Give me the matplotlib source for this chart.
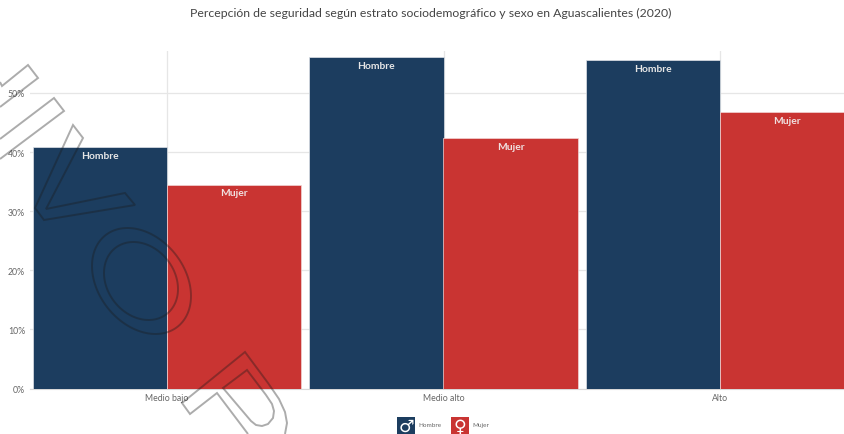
"""Percepción de seguridad por estrato y sexo."""

import matplotlib

matplotlib.use('Agg')

import matplotlib.pyplot as plt
import numpy as np
from matplotlib.patches import Polygon, Rectangle

W, H = 844, 435

categorias = ['Medio bajo', 'Medio alto', 'Alto']
hombre = [40.8, 56.1, 55.5]
mujer = [34.5, 42.4, 46.7]
yticks = [0, 10, 20, 30, 40, 50]

# contornos de la marca de agua, en pixeles de la imagen
marca_abiertas = [
    [(0, 83), (2, 87), (28, 66), (38, 79), (0, 108)],
    [(0, 140), (54, 99), (64, 112), (0, 160)],
    [(248, 435), (217, 394), (190, 415), (182, 404), (245, 353), (268, 384), (279, 400), (285, 413), (287, 424), (285, 435)],
]
marca_cerradas = [
    [(73, 126), (83, 139), (46, 210), (125, 194), (135, 206), (44, 221), (35, 209)],
    [(223, 389), (247, 371), (266, 396), (272, 405), (274, 412), (273, 419), (268, 425), (262, 427), (256, 426), (251, 422)],
]
# (cx, cy, medio ancho, medio alto, inclinacion)
marca_elipses = [
    (141.5, 282, 49.5, 53, 742),
    (141, 282, 37, 39, 296),
]

AZUL = '#1c3d5f'
ROJO = '#c93432'

plt.rcParams['font.family'] = ['Lato', 'DejaVu Sans']

fig = plt.figure(figsize=(W / 100, H / 100), dpi=100)
ax = fig.add_axes([30 / W, (H - 389.5) / H, (W - 30) / W, 337.5 / H])

x = np.arange(len(categorias))
ancho = 0.486
ax.bar(x - ancho / 2, hombre, ancho, color=AZUL, edgecolor='#dfe3e8', linewidth=0.5, zorder=3)
ax.bar(x + ancho / 2, mujer, ancho, color=ROJO, edgecolor='#f2d5d5', linewidth=0.5, zorder=3)

for xi, h, m in zip(x, hombre, mujer):
    ax.text(xi - ancho / 2, h - 1.4, 'Hombre', color='#e6e6e6', fontsize=7.4, fontweight='bold',
            ha='center', va='center', zorder=4)
    ax.text(xi + ancho / 2, m - 1.4, 'Mujer', color='#f0e0e0', fontsize=7.4, fontweight='bold',
            ha='center', va='center', zorder=4)

ax.set_xlim((30 - 167) / 276.5, (W - 167) / 276.5)
ax.set_ylim(0, 57.1)
ax.set_xticks(x, categorias)
ax.set_yticks(yticks, [f'{v}%' for v in yticks])
ax.tick_params(length=0, labelsize=6.3, labelcolor='#666666')
ax.tick_params(axis='x', pad=3.5)
ax.tick_params(axis='y', pad=3.5)
ax.grid(True, color='#e6e6e6', linewidth=0.9, zorder=0)
for lado in ['top', 'right', 'left']:
    ax.spines[lado].set_visible(False)
ax.spines['bottom'].set_color('#d8d8d8')

fig.text(430.5 / W, (H - 13) / H, 'Percepción de seguridad según estrato sociodemográfico y sexo en Aguascalientes (2020)',
         ha='center', va='center', fontsize=8.8, color='#444444')

# leyenda con iconos
for x0, color, icono, nombre in [(397, AZUL, '♂', 'Hombre'), (451, ROJO, '♀', 'Mujer')]:
    fig.add_artist(Rectangle((x0 / W, (H - 435) / H), 18 / W, 17 / H, transform=fig.transFigure,
                             facecolor=color, edgecolor='none'))
    fig.text((x0 + 9) / W, (H - 426.5) / H, icono, ha='center', va='center', fontsize=12.5,
             fontweight='bold', color='white', family='DejaVu Sans')
    fig.text((x0 + 21) / W, (H - 426) / H, nombre, ha='left', va='center', fontsize=4.6, color='#666666')


def px(puntos):
    return [(a / W, (H - b) / H) for a, b in puntos]


# marca de agua
estilo = dict(transform=fig.transFigure, facecolor='none', edgecolor=(0.1, 0.1, 0.1, 0.36), linewidth=1.4, zorder=10)
for puntos in marca_abiertas:
    fig.add_artist(Polygon(px(puntos), closed=False, **estilo))
for puntos in marca_cerradas:
    fig.add_artist(Polygon(px(puntos), closed=True, **estilo))
t = np.linspace(0, 2 * np.pi, 120)
for cx, cy, ax_x, ax_y, s in marca_elipses:
    ex = cx + ax_x * np.cos(t)
    ey = cy + s / ax_x * np.cos(t) + np.sqrt(ax_y ** 2 - (s / ax_x) ** 2) * np.sin(t)
    fig.add_artist(Polygon(px(list(zip(ex, ey))), closed=True, **estilo))

fig.savefig('out.png', dpi=100)
